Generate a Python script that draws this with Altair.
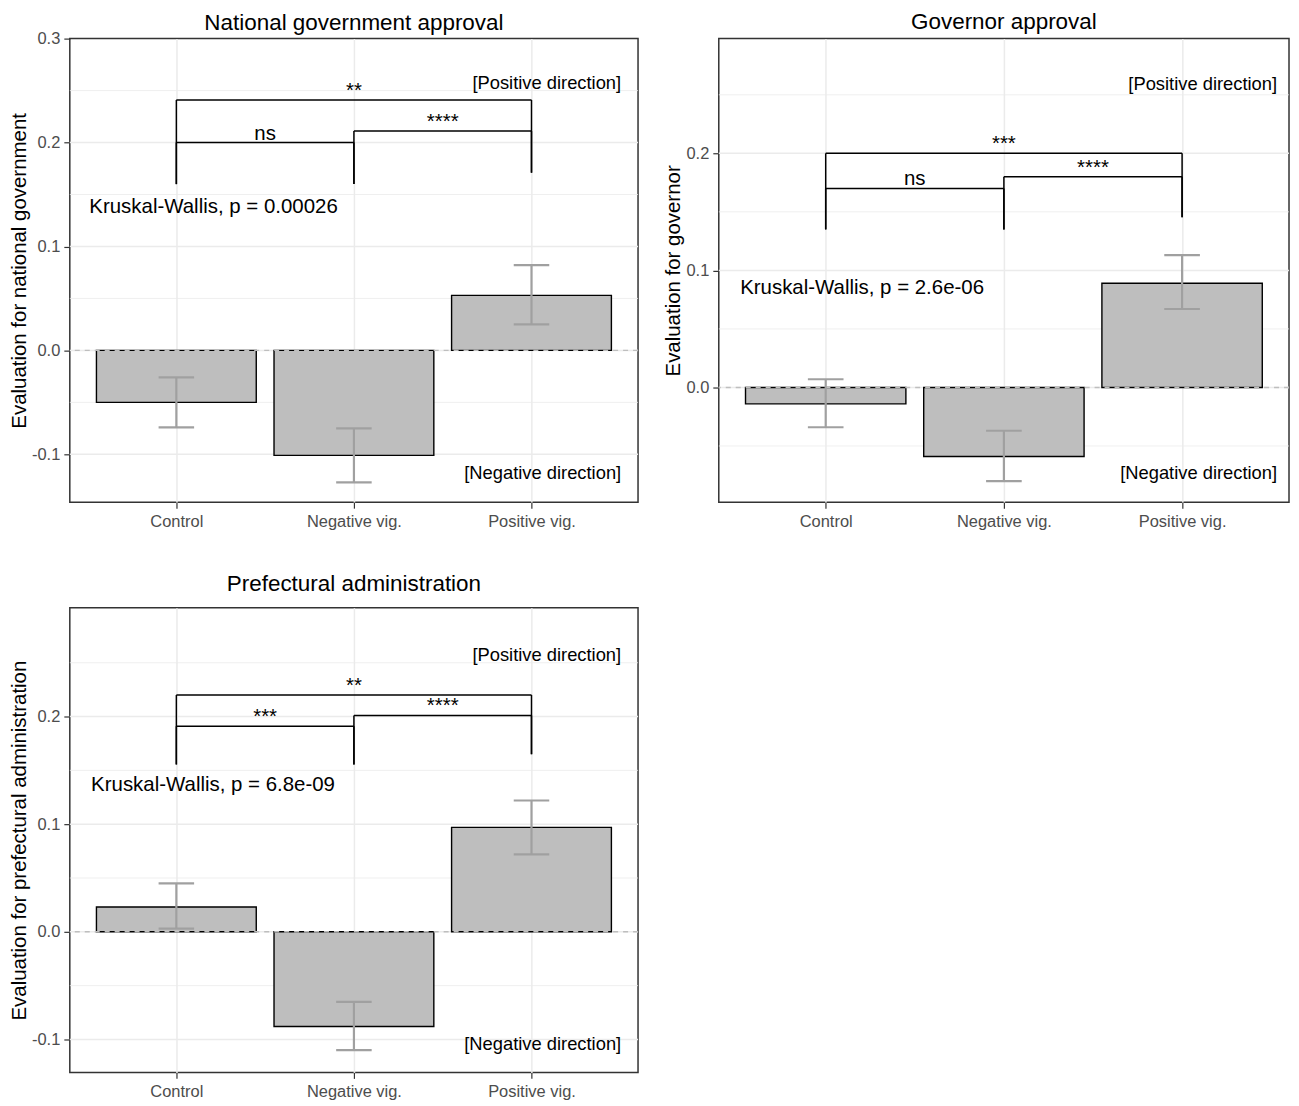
import altair as alt
import pandas as pd

FONT = "Liberation Sans"

groups = ["Control", "Negative vig.", "Positive vig."]

# means and error bar ends
nat_mean = [-0.050, -0.101, 0.053]
nat_lo = [-0.074, -0.127, 0.025]
nat_hi = [-0.026, -0.075, 0.082]

gov_mean = [-0.014, -0.059, 0.089]
gov_lo = [-0.034, -0.080, 0.067]
gov_hi = [0.007, -0.037, 0.113]

pref_mean = [0.023, -0.088, 0.097]
pref_lo = [0.003, -0.110, 0.072]
pref_hi = [0.045, -0.065, 0.122]

# significance brackets
br_left = ["Control", "Negative vig.", "Control"]
br_right = ["Negative vig.", "Positive vig.", "Positive vig."]

nat_br_y = [0.200, 0.211, 0.241]
nat_br_tipl = [0.160, 0.160, 0.160]
nat_br_tipr = [0.160, 0.171, 0.171]
nat_br_lab = ["ns", "****", "**"]

gov_br_y = [0.170, 0.180, 0.200]
gov_br_tipl = [0.135, 0.135, 0.135]
gov_br_tipr = [0.135, 0.1455, 0.1455]
gov_br_lab = ["ns", "****", "***"]

pref_br_y = [0.191, 0.201, 0.220]
pref_br_tipl = [0.1555, 0.1555, 0.1555]
pref_br_tipr = [0.1555, 0.165, 0.165]
pref_br_lab = ["***", "****", "**"]

titles = ["National government approval", "Governor approval", "Prefectural administration"]
ytitles = ["Evaluation for national government", "Evaluation for governor",
           "Evaluation for prefectural administration"]
kw_text = ["Kruskal-Wallis, p = 0.00026", "Kruskal-Wallis, p = 2.6e-06", "Kruskal-Wallis, p = 6.8e-09"]
kw_y = [0.1375, 0.085, 0.136]
pos_text = "[Positive direction]"
neg_text = "[Negative direction]"
pos_y = [0.257, 0.259, 0.257]
neg_y = [-0.118, -0.073, -0.104]
y_domains = [[-0.146, 0.300], [-0.098, 0.298], [-0.1306, 0.301]]
major_ticks = [[-0.1, 0.0, 0.1, 0.2, 0.3], [0.0, 0.1, 0.2], [-0.1, 0.0, 0.1, 0.2]]
minor_ticks = [[-0.05, 0.05, 0.15, 0.25], [-0.05, 0.05, 0.15, 0.25], [-0.05, 0.05, 0.15, 0.25]]

GRID = "#EBEBEB"
LABEL = "#4D4D4D"
DARK = "#333333"


def panel(i, mean, lo, hi, br_y, br_tl, br_tr, br_lab, width, height, dir_x, kw_x, title_offset):
    pos = [k + 1 for k in range(len(groups))]
    idx = {g: k + 1 for k, g in enumerate(groups)}
    bars = pd.DataFrame({"group": groups, "pos": pos, "mean": mean, "lo": lo, "hi": hi})
    caps = pd.concat([
        pd.DataFrame({"pos": pos, "v": lo}),
        pd.DataFrame({"pos": pos, "v": hi}),
    ])
    br = pd.DataFrame({
        "l": [idx[g] for g in br_left],
        "r": [idx[g] for g in br_right],
        "y": br_y, "tl": br_tl, "tr": br_tr, "lab": br_lab,
    })
    lo_d, hi_d = y_domains[i]
    inner_major = [v for v in major_ticks[i] if lo_d + 1e-6 < v < hi_d - 1e-6]
    major = pd.DataFrame({"v": inner_major})
    minor = pd.DataFrame({"v": minor_ticks[i]})
    zero = pd.DataFrame({"z": [0.0]})
    kw = pd.DataFrame({"t": [kw_text[i]], "x": [kw_x], "y": [kw_y[i]]})
    dirs = pd.DataFrame({"t": [pos_text, neg_text], "x": [dir_x, dir_x], "y": [pos_y[i], neg_y[i]]})

    yscale = alt.Scale(domain=y_domains[i], nice=False, zero=False)
    xscale = alt.Scale(domain=[0.4, 3.6], nice=False, zero=False)
    label_expr = (f"datum.value == 1 ? '{groups[0]}' : datum.value == 2 ? "
                  f"'{groups[1]}' : '{groups[2]}'")
    xaxis = alt.Axis(values=pos, labelExpr=label_expr, title=None, grid=True,
                     gridColor=GRID, gridWidth=1.5, tickSize=6, tickColor=DARK,
                     tickWidth=1.2, domain=False, labelFontSize=16.5,
                     labelColor=LABEL, labelPadding=5, labelFont=FONT)
    yaxis = alt.Axis(values=major_ticks[i],
                     labelExpr="(datum.value < 0 ? '-' : '') + format(abs(datum.value), '.1f')",
                     title=ytitles[i], titleFontSize=20.5, titleFontWeight="normal",
                     titleColor="black", titlePadding=2, titleFont=FONT,
                     labelFontSize=16.5, labelColor=LABEL, labelPadding=4, labelFont=FONT,
                     tickSize=6, tickColor=DARK, tickWidth=1.2, grid=False, domain=False)

    def X(f):
        return alt.X(f, scale=xscale, axis=xaxis)

    def Y(f):
        return alt.Y(f, scale=yscale, axis=yaxis)

    minor_layer = alt.Chart(minor).mark_rule(color=GRID, strokeWidth=0.8).encode(y=Y("v:Q"))
    major_layer = alt.Chart(major).mark_rule(color=GRID, strokeWidth=1.5).encode(y=Y("v:Q"))

    bar_layer = alt.Chart(bars).mark_rect(color="#BEBEBE", stroke="black", strokeWidth=1.4).transform_calculate(
        xl="datum.pos - 0.45", xr="datum.pos + 0.45", z="0"
    ).encode(x=X("xl:Q"), x2="xr:Q", y=Y("mean:Q"), y2="z:Q")

    zero_layer = alt.Chart(zero).mark_rule(color="#BEBEBE", strokeDash=[5, 5], strokeWidth=1.4).encode(
        y=Y("z:Q"))

    err_layer = alt.Chart(bars).mark_rule(color="#A0A0A0", strokeWidth=2.2).encode(
        x=X("pos:Q"), y=Y("lo:Q"), y2="hi:Q")
    cap_layer = alt.Chart(caps).mark_rule(color="#A0A0A0", strokeWidth=2.2).transform_calculate(
        cl="datum.pos - 0.1", cr="datum.pos + 0.1"
    ).encode(x=X("cl:Q"), x2="cr:Q", y=Y("v:Q"))

    br_h = alt.Chart(br).mark_rule(color="black", strokeWidth=1.5).encode(
        x=X("l:Q"), x2="r:Q", y=Y("y:Q"))
    br_l = alt.Chart(br).mark_rule(color="black", strokeWidth=1.5).encode(
        x=X("l:Q"), y=Y("y:Q"), y2="tl:Q")
    br_r = alt.Chart(br).mark_rule(color="black", strokeWidth=1.5).encode(
        x=X("r:Q"), y=Y("y:Q"), y2="tr:Q")
    br_t = alt.Chart(br).mark_text(fontSize=20.5, font=FONT, color="black", baseline="alphabetic", dy=-3).transform_calculate(
        m="(datum.l + datum.r) / 2"
    ).encode(x=X("m:Q"), y=Y("y:Q"), text="lab:N")

    kw_layer = alt.Chart(kw).mark_text(align="left", baseline="middle", fontSize=20.5, font=FONT, color="black").encode(
        x=X("x:Q"), y=Y("y:Q"), text="t:N")
    dir_layer = alt.Chart(dirs).mark_text(align="right", baseline="middle", fontSize=18.4, font=FONT, color="black").encode(
        x=X("x:Q"), y=Y("y:Q"), text="t:N")

    return alt.layer(
        minor_layer, major_layer, bar_layer, zero_layer, err_layer, cap_layer,
        br_h, br_l, br_r, br_t, kw_layer, dir_layer
    ).properties(
        width=width, height=height,
        title=alt.TitleParams(titles[i], fontSize=22.5, fontWeight="normal", font=FONT,
                              color="black", anchor="middle", offset=title_offset),
    )


p1 = panel(0, nat_mean, nat_lo, nat_hi, nat_br_y, nat_br_tipl, nat_br_tipr, nat_br_lab,
           570, 465, 3.505, 0.51, -4)
p2 = panel(1, gov_mean, gov_lo, gov_hi, gov_br_y, gov_br_tipl, gov_br_tipr, gov_br_lab,
           572, 465, 3.533, 0.52, 5)
p3 = panel(2, pref_mean, pref_lo, pref_hi, pref_br_y, pref_br_tipl, pref_br_tipr, pref_br_lab,
           570, 466, 3.505, 0.52, 12)

chart = alt.vconcat(
    alt.hconcat(p1, p2, spacing=23),
    p3,
    spacing=41,
).properties(padding=0, background="white").configure(font=FONT).configure_view(
    stroke=DARK, strokeWidth=1.5
)

chart.save("out.html", embed_options={"renderer": "svg", "actions": False})
